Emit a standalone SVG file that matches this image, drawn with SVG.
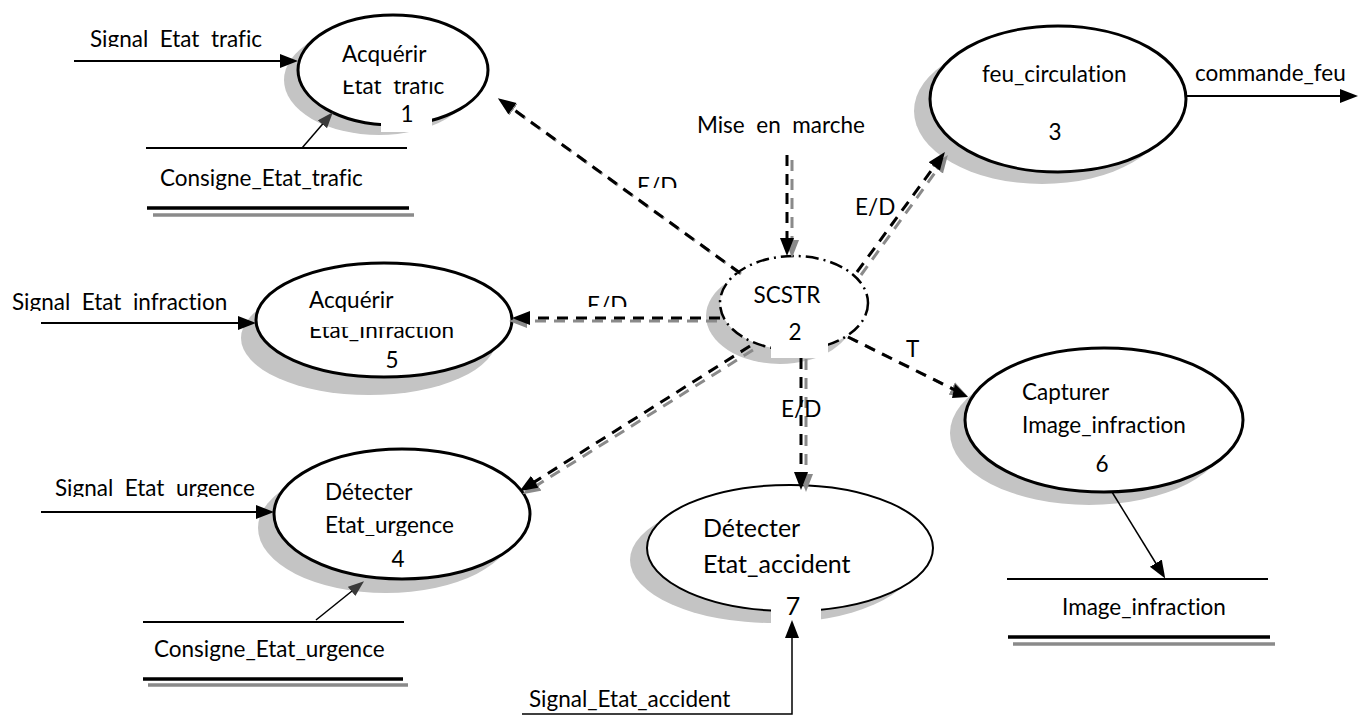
<svg xmlns="http://www.w3.org/2000/svg" width="1370" height="717" viewBox="0 0 1370 717">
  <style>
    text { font-family: Lato, "Open Sans", "Liberation Sans", sans-serif; font-size: 22.5px; fill: #000; font-variant-ligatures: none; font-feature-settings: "liga" 0, "dlig" 0; }
    .big { font-size: 25px; }
    .proc { fill: #fff; stroke: #000; stroke-width: 3; }
    .shadow { fill: #c4c4c4; stroke: none; }
    .ctrl { fill: none; stroke: #000; stroke-width: 2.5; stroke-dasharray: 13 5 2 5; }
    .flow { fill: none; stroke: #000; stroke-width: 2; }
    .thin { fill: none; stroke: #000; stroke-width: 1.5; }
    .dash { fill: none; stroke: #000; stroke-width: 3; stroke-dasharray: 11 8; }
    .dashg { fill: none; stroke: #8a8a8a; stroke-width: 3; stroke-dasharray: 11 8; }
    .store { stroke: #000; stroke-width: 1.8; }
    .storeb { stroke: #000; stroke-width: 3.5; }
    .storeg { stroke: #8a8a8a; stroke-width: 3.5; }
    .mask { fill: #fff; stroke: none; }
  </style>
  <defs>
    <marker id="ah" markerUnits="userSpaceOnUse" markerWidth="20" markerHeight="16" refX="8" refY="7" orient="auto">
      <path d="M0,0 L18,7 L0,14 z" fill="#000"/>
    </marker>
    <marker id="ahd" markerUnits="userSpaceOnUse" markerWidth="18" markerHeight="14" refX="7" refY="6" orient="auto">
      <path d="M0,0 L16,6 L0,12 z" fill="#3a3a3a"/>
    </marker>
    <marker id="ahg" markerUnits="userSpaceOnUse" markerWidth="20" markerHeight="16" refX="8" refY="7" orient="auto">
      <path d="M0,0 L18,7 L0,14 z" fill="#8a8a8a"/>
    </marker>
    <clipPath id="c-sig1"><rect x="0" y="0" width="300" height="47"/></clipPath>
    <clipPath id="c-sig5"><rect x="0" y="280" width="300" height="31"/></clipPath>
    <clipPath id="c-sig4"><rect x="0" y="460" width="300" height="37"/></clipPath>
    <clipPath id="c-ed1"><rect x="600" y="160" width="100" height="28"/></clipPath>
    <clipPath id="c-ed5"><rect x="560" y="280" width="100" height="27"/></clipPath>
    <clipPath id="c-n1"><rect x="330" y="80.5" width="150" height="20"/></clipPath>
    <clipPath id="c-n5"><rect x="300" y="327" width="200" height="20"/></clipPath>
    <clipPath id="c-n4"><rect x="300" y="510" width="200" height="26"/></clipPath>
  </defs>

  <!-- process 1 -->
  <g id="p1">
    <ellipse class="shadow" cx="379" cy="80" rx="95" ry="55"/>
    <ellipse class="proc" cx="393" cy="70" rx="95" ry="55"/>
    <text x="342" y="62">Acquérir</text>
    <text x="342" y="94" clip-path="url(#c-n1)" xml:space="preserve">Etat  trafic</text>
    <rect class="mask" x="381" y="110" width="51" height="22"/>
    <text x="407" y="122" text-anchor="middle">1</text>
  </g>

  <!-- data store: Consigne_Etat_trafic -->
  <g id="ds1">
    <line class="store" x1="146" y1="148" x2="407" y2="148"/>
    <text x="160" y="186">Consigne_Etat_trafic</text>
    <line class="storeg" x1="153" y1="215" x2="414" y2="215"/>
    <line class="storeb" x1="147" y1="208" x2="409" y2="208"/>
  </g>

  <!-- process 3 -->
  <g id="p3">
    <ellipse class="shadow" cx="1042" cy="111" rx="128" ry="73"/>
    <ellipse class="proc" cx="1058" cy="99" rx="128" ry="73"/>
    <text x="982" y="82">feu_circulation</text>
    <text x="1055" y="140" text-anchor="middle">3</text>
  </g>

  <!-- process 2 : SCSTR (control process) -->
  <g id="p2">
    <ellipse class="shadow" cx="780" cy="316" rx="74" ry="48"/>
    <ellipse fill="#fff" stroke="none" cx="794" cy="303" rx="74" ry="47"/>
    <ellipse class="ctrl" cx="794" cy="303" rx="74" ry="47"/>
    <text x="787" y="303" text-anchor="middle">SCSTR</text>
    <rect class="mask" x="771" y="330" width="57" height="28"/>
    <text x="795" y="340" text-anchor="middle">2</text>
  </g>

  <!-- process 5 -->
  <g id="p5">
    <ellipse class="shadow" cx="369" cy="338" rx="128" ry="57"/>
    <ellipse class="proc" cx="384" cy="320" rx="128" ry="57"/>
    <text x="309" y="308">Acquérir</text>
    <text x="309" y="338" clip-path="url(#c-n5)">Etat_Infraction</text>
    <text x="392" y="368" text-anchor="middle">5</text>
  </g>

  <!-- process 4 -->
  <g id="p4">
    <ellipse class="shadow" cx="386" cy="528" rx="128" ry="65"/>
    <ellipse class="proc" cx="402" cy="514" rx="128" ry="65"/>
    <text x="325" y="500">Détecter</text>
    <text x="325" y="533" clip-path="url(#c-n4)">Etat_urgence</text>
    <text x="398" y="567" text-anchor="middle">4</text>
  </g>

  <!-- data store: Consigne_Etat_urgence -->
  <g id="ds4">
    <line class="store" x1="143" y1="622" x2="404" y2="622"/>
    <text x="154" y="657">Consigne_Etat_urgence</text>
    <line class="storeg" x1="148" y1="685" x2="408" y2="685"/>
    <line class="storeb" x1="143" y1="679" x2="403" y2="679"/>
  </g>

  <!-- process 7 -->
  <g id="p7">
    <ellipse class="shadow" cx="773" cy="560" rx="143" ry="63"/>
    <ellipse fill="#fff" stroke="#000" stroke-width="2" cx="790" cy="548" rx="143" ry="63"/>
    <text class="big" x="703" y="537">Détecter</text>
    <text class="big" x="703" y="573">Etat_accident</text>
    <rect class="mask" x="771" y="603" width="50" height="22"/>
    <text class="big" x="793" y="615" text-anchor="middle">7</text>
  </g>

  <!-- process 6 -->
  <g id="p6">
    <ellipse class="shadow" cx="1089" cy="433" rx="139" ry="72"/>
    <ellipse class="proc" cx="1104" cy="420" rx="139" ry="72"/>
    <text x="1022" y="400">Capturer</text>
    <text x="1022" y="433">Image_infraction</text>
    <text x="1102" y="472" text-anchor="middle">6</text>
  </g>

  <!-- data store: Image_infraction -->
  <g id="ds6">
    <line class="store" x1="1007" y1="579" x2="1268" y2="579"/>
    <text x="1062" y="615">Image_infraction</text>
    <line class="storeg" x1="1013" y1="644" x2="1275" y2="644"/>
    <line class="storeb" x1="1008" y1="637" x2="1270" y2="637"/>
  </g>

  <!-- connectors -->
  <g id="connectors">
    <!-- external flows -->
    <line class="flow" x1="74" y1="61" x2="288" y2="61" marker-end="url(#ah)"/>
    <text x="90" y="47" clip-path="url(#c-sig1)" xml:space="preserve">Signal  Etat  trafic</text>

    <line class="thin" x1="302" y1="148" x2="327" y2="119" marker-end="url(#ahd)"/>

    <line class="flow" x1="1186" y1="96" x2="1348" y2="96" marker-end="url(#ah)"/>
    <text x="1195" y="81">commande_feu</text>

    <line class="flow" x1="41" y1="323" x2="246" y2="323" marker-end="url(#ah)"/>
    <text x="12" y="310" clip-path="url(#c-sig5)" xml:space="preserve">Signal  Etat  infraction</text>

    <line class="flow" x1="41" y1="512" x2="264" y2="512" marker-end="url(#ah)"/>
    <text x="55" y="496" clip-path="url(#c-sig4)" xml:space="preserve">Signal  Etat  urgence</text>

    <line class="thin" x1="316" y1="620" x2="357" y2="587" marker-end="url(#ahd)"/>

    <line class="thin" x1="1112" y1="492" x2="1160" y2="570" marker-end="url(#ah)"/>

    <path class="thin" d="M522,714 H792 V630" marker-end="url(#ah)"/>
    <text x="529" y="707">Signal_Etat_accident</text>

    <!-- control flows from SCSTR -->
    <!-- Mise en marche -->
    <line class="dashg" x1="792" y1="160" x2="792" y2="248" marker-end="url(#ahg)"/>
    <line class="dash" x1="787" y1="155" x2="787" y2="246" marker-end="url(#ah)"/>
    <text x="697" y="133" xml:space="preserve">Mise  en  marche</text>

    <!-- to process 1 -->
    <line class="dashg" x1="741" y1="274" x2="507" y2="105" stroke-dasharray="15 4" marker-end="url(#ahg)"/>
    <line class="dash" x1="740" y1="273" x2="506" y2="104" stroke-dasharray="11 8" marker-end="url(#ah)"/>
    <text x="637" y="194" clip-path="url(#c-ed1)">E/D</text>

    <!-- to process 5 -->
    <line class="dashg" x1="717" y1="321" x2="519" y2="321" marker-end="url(#ahg)"/>
    <line class="dash" x1="720" y1="318" x2="522" y2="318" marker-end="url(#ah)"/>
    <text x="587" y="313" clip-path="url(#c-ed5)">E/D</text>

    <!-- to process 4 -->
    <line class="dashg" x1="753" y1="350" x2="531" y2="489" marker-end="url(#ahg)"/>
    <line class="dash" x1="750" y1="346" x2="528" y2="486" marker-end="url(#ah)"/>

    <!-- to process 7 -->
    <line class="dashg" x1="806" y1="359" x2="806" y2="482" marker-end="url(#ahg)"/>
    <line class="dash" x1="801" y1="358" x2="801" y2="480" marker-end="url(#ah)"/>
    <text x="781" y="417">E/D</text>

    <!-- to process 3 -->
    <line class="dashg" x1="861" y1="275" x2="942" y2="163" marker-end="url(#ahg)"/>
    <line class="dash" x1="857" y1="272" x2="939" y2="160" marker-end="url(#ah)"/>
    <text x="855" y="215">E/D</text>

    <!-- to process 6 -->
    <line class="dashg" x1="848" y1="337" x2="959" y2="392" stroke-dasharray="15 4" marker-end="url(#ahg)"/>
    <line class="dash" x1="848" y1="337" x2="959" y2="392" stroke-dasharray="11 8"/>
    <path d="M952,398 L968,397 L955,384 z" fill="#000"/>
    <text x="906" y="357">T</text>
  </g>
</svg>
